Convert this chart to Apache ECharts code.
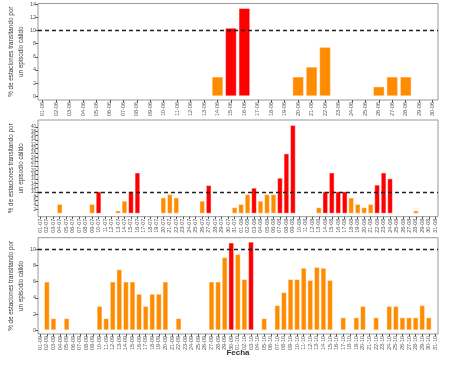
<!DOCTYPE html>
<html>
<head>
<meta charset="utf-8">
<script src="https://cdn.jsdelivr.net/npm/echarts@6/dist/echarts.min.js"></script>
<style>
  html, body { margin: 0; padding: 0; background: #fff; }
  #chart { width: 450px; height: 367px; }
</style>
</head>
<body>
<div id="chart"></div>
<script>
// % de estaciones en episodio cálido, por día
const junValues = [0, 0, 0, 0, 0, 0, 0, 0, 0, 0, 0, 0, 0, 3, 10.4, 13.4, 0, 0, 0, 3, 4.5, 7.5, 0, 0, 0, 1.5, 3, 3, 0, 0];
const julAugValues = [
  0, 0, 0, 4.5, 0, 0, 0, 0, 4.5, 10.3, 0, 0, 1.5, 6, 10.3, 19, 0, 0, 0, 7.5, 9, 7.5, 0, 0, 0, 6, 13.2, 0, 0, 0, 3,
  4.5, 9, 12, 6, 9, 9, 16.6, 27.8, 40.9, 0, 0, 0, 3, 10.3, 19, 10.3, 10.3, 7.5, 4.5, 3, 4.5, 13.4, 19, 16.3, 0, 0, 0, 1.5, 0, 0, 0
];
const sepOctValues = [
  0, 6, 1.5, 0, 1.5, 0, 0, 0, 0, 3, 1.5, 6, 7.5, 6, 6, 4.5, 3, 4.5, 4.5, 6, 0, 1.5, 0, 0, 0, 0, 6, 6, 9, 10.8,
  9.4, 6.3, 10.9, 0, 1.5, 0, 3.1, 4.7, 6.3, 6.3, 7.7, 6.2, 7.8, 7.7, 6.2, 0, 1.6, 0, 1.6, 3.0, 0, 1.6, 0, 3.0, 3.0, 1.6, 1.6, 1.6, 3.1, 1.6, 0
];

const threshold = 10;
const junTicks = [0, 2, 4, 6, 8, 10, 12, 14];
const julAugTicks = [0, 2, 4, 6, 8, 10, 12, 14, 16, 18, 20, 22, 24, 26, 28, 30, 32, 34, 36, 38, 40, 42];
const sepOctTicks = [0, 2, 4, 6, 8, 10];

function dayLabels(month, days) {
  const out = [];
  for (let d = 1; d <= days; d++) out.push(String(d).padStart(2, '0') + '-' + month);
  return out;
}
const junDates = dayLabels('06', 30);
const julAugDates = dayLabels('07', 31).concat(dayLabels('08', 31));
const sepOctDates = dayLabels('09', 30).concat(dayLabels('10', 31));

const panels = [
  { dates: junDates, values: junValues, ticks: junTicks, top: 3.5, height: 96.5, yMin: -0.56, yMax: 14.08, barWidth: 11.7 },
  { dates: julAugDates, values: julAugValues, ticks: julAugTicks, top: 120, height: 96.7, yMin: -1.38, yMax: 43.2, barWidth: 5.7 },
  { dates: sepOctDates, values: sepOctValues, ticks: sepOctTicks, top: 237.7, height: 96.3, yMin: -0.45, yMax: 11.39, barWidth: 5.8 }
];

const font = 'Liberation Sans';
const grey = '#555';
const yTitle = '% de estaciones transitando por\nun episodio cálido';

const chart = echarts.init(document.getElementById('chart'));

chart.setOption({
  animation: false,
  grid: panels.map(p => ({
    left: 38, right: 12, top: p.top, height: p.height,
    outerBoundsMode: 'none', containLabel: false,
    show: true, borderColor: '#9a9a9a', borderWidth: 1, backgroundColor: '#fff'
  })),
  xAxis: panels.map((p, k) => {
    const idx = p.dates.map((d, i) => i);
    return {
      type: 'value', gridIndex: k,
      min: -0.35, max: p.dates.length - 1 + 0.4,
      axisLine: { show: false, onZero: false },
      splitLine: { show: false },
      axisTick: { show: true, customValues: idx, length: 2.5, lineStyle: { color: grey, width: 1 } },
      axisLabel: {
        customValues: idx, rotate: 90, fontSize: 5.5, margin: 2, color: grey, fontFamily: font,
        formatter: v => p.dates[Math.round(v)]
      },
      name: k === 2 ? 'Fecha' : '',
      nameLocation: 'middle', nameGap: 15, nameMoveOverlap: false,
      nameTextStyle: { fontSize: 8, fontWeight: 'bold', color: '#333', fontFamily: font }
    };
  }),
  yAxis: panels.map((p, k) => ({
    type: 'value', gridIndex: k,
    min: p.yMin, max: p.yMax,
    axisLine: { show: false, onZero: false },
    splitLine: { show: false },
    axisTick: { show: true, customValues: p.ticks, length: 2.5, lineStyle: { color: grey, width: 1 } },
    axisLabel: { customValues: p.ticks, fontSize: k === 1 ? 4.5 : 5.5, margin: 2, color: grey, fontFamily: font },
    name: yTitle,
    nameLocation: 'middle', nameRotate: 90, nameGap: 12, nameMoveOverlap: false,
    nameTextStyle: { fontSize: 6.3, lineHeight: 10, color: '#333', fontFamily: font, align: 'center' }
  })),
  series: panels.map((p, k) => ({
    type: 'bar',
    xAxisIndex: k, yAxisIndex: k,
    barWidth: p.barWidth,
    data: p.values.map((v, i) => [i, v]).filter(d => d[1] > 0),
    itemStyle: {
      color: params => (params.value[1] > threshold ? '#FF0000' : '#FF8C00'),
      borderColor: 'rgba(255,255,255,0.45)',
      borderWidth: 1
    },
    markLine: {
      silent: true, symbol: 'none', label: { show: false },
      lineStyle: { color: '#222', type: [4, 3], width: 1.3 },
      data: [{ yAxis: threshold }]
    }
  }))
});
</script>
</body>
</html>
